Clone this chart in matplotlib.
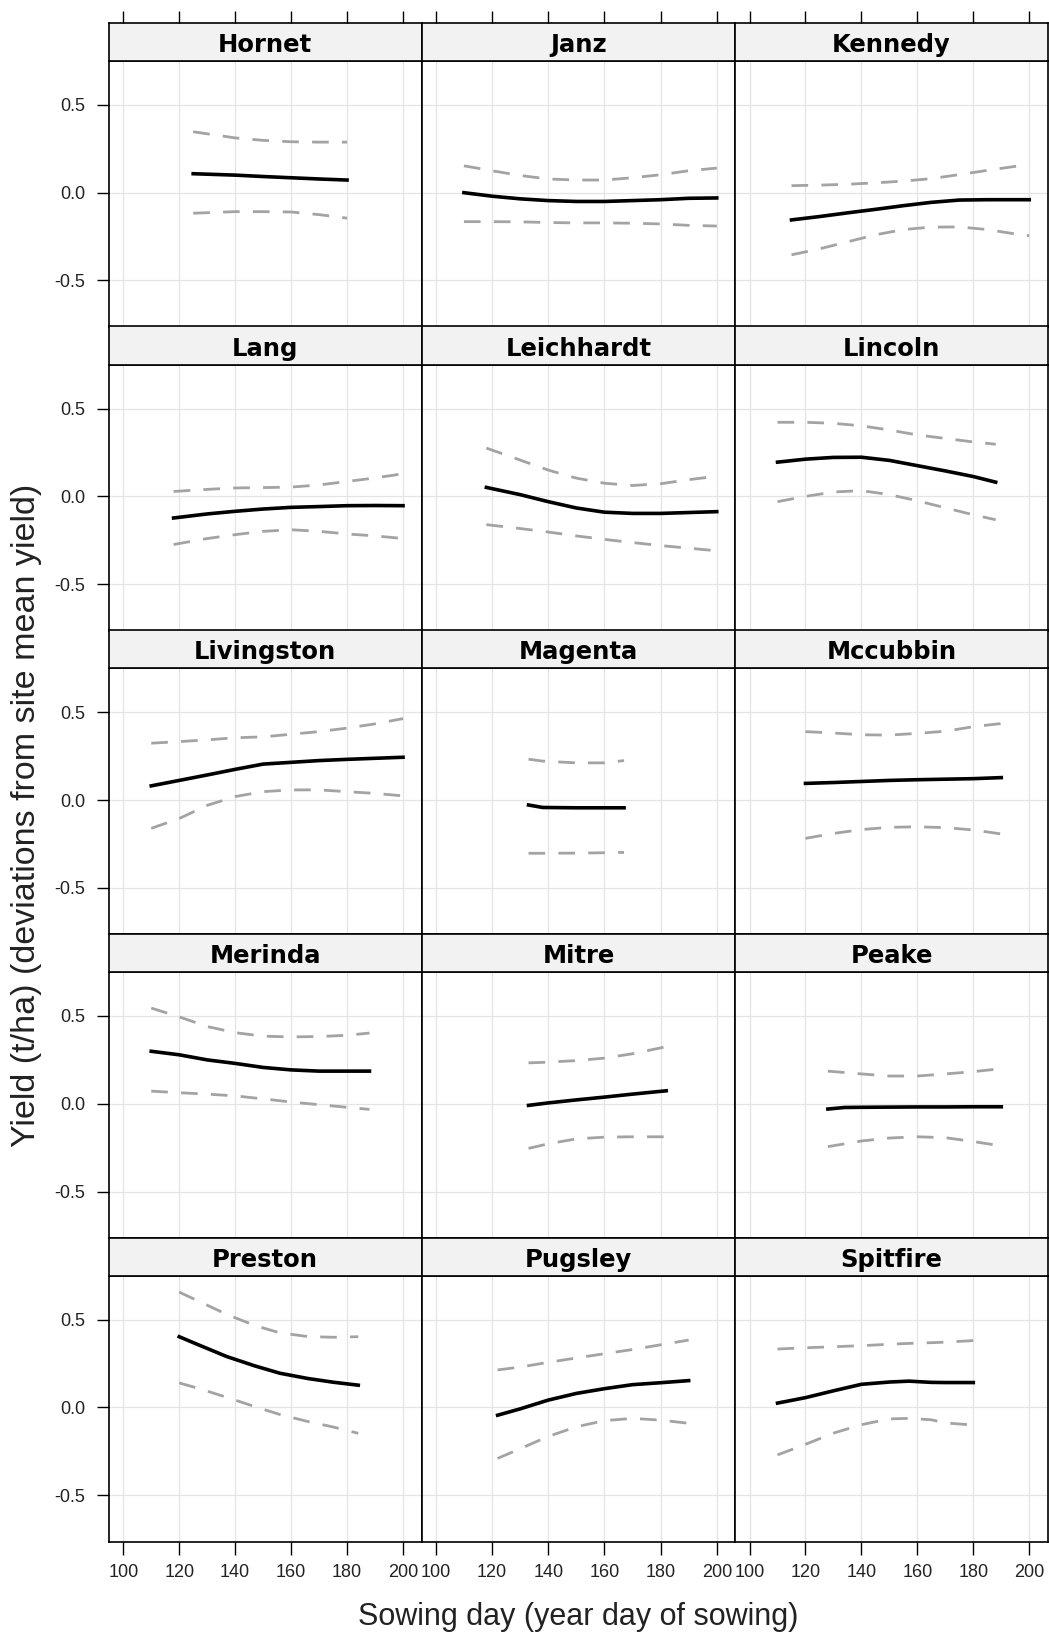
import matplotlib
matplotlib.use("Agg")
from matplotlib import pyplot as plt

# Fitted yield deviation by sowing day, with upper / lower confidence bands
VARIETIES = ["Hornet", "Janz", "Kennedy",
             "Lang", "Leichhardt", "Lincoln",
             "Livingston", "Magenta", "Mccubbin",
             "Merinda", "Mitre", "Peake",
             "Preston", "Pugsley", "Spitfire"]

hornet_days = [125, 140, 150, 160, 170, 180]
hornet_fit = [0.108, 0.100, 0.092, 0.085, 0.078, 0.072]
hornet_upper = [0.347, 0.312, 0.298, 0.290, 0.288, 0.288]
hornet_lower = [-0.117, -0.108, -0.108, -0.110, -0.125, -0.145]

janz_days = [110, 120, 130, 140, 150, 160, 170, 180, 190, 200]
janz_fit = [0.0, -0.02, -0.035, -0.045, -0.05, -0.05, -0.045, -0.04, -0.032, -0.03]
janz_upper = [0.153, 0.125, 0.098, 0.078, 0.072, 0.072, 0.085, 0.102, 0.125, 0.14]
janz_lower = [-0.165, -0.165, -0.166, -0.170, -0.172, -0.172, -0.174, -0.178, -0.186, -0.19]

kennedy_days = [115, 125, 135, 145, 155, 165, 175, 185, 195, 200]
kennedy_fit = [-0.155, -0.136, -0.115, -0.095, -0.074, -0.055, -0.042, -0.04, -0.04, -0.04]
kennedy_upper = [0.04, 0.043, 0.048, 0.056, 0.066, 0.08, 0.103, 0.127, 0.15, 0.16]
kennedy_lower = [-0.354, -0.32, -0.28, -0.24, -0.21, -0.196, -0.195, -0.21, -0.235, -0.245]

lang_days = [118, 130, 140, 150, 160, 170, 180, 190, 200]
lang_fit = [-0.123, -0.10, -0.085, -0.072, -0.0625, -0.058, -0.053, -0.052, -0.053]
lang_upper = [0.028, 0.04, 0.048, 0.05, 0.053, 0.065, 0.085, 0.105, 0.129]
lang_lower = [-0.274, -0.24, -0.218, -0.199, -0.19, -0.199, -0.214, -0.225, -0.24]

leichhardt_days = [118, 130, 140, 150, 160, 170, 180, 190, 200]
leichhardt_fit = [0.051, 0.01, -0.03, -0.066, -0.09, -0.097, -0.097, -0.092, -0.087]
leichhardt_upper = [0.275, 0.207, 0.15, 0.104, 0.075, 0.062, 0.072, 0.095, 0.115]
leichhardt_lower = [-0.161, -0.183, -0.203, -0.225, -0.245, -0.263, -0.28, -0.295, -0.31]

lincoln_days = [110, 120, 130, 140, 150, 160, 170, 180, 188]
lincoln_fit = [0.195, 0.212, 0.222, 0.223, 0.205, 0.175, 0.145, 0.113, 0.081]
lincoln_upper = [0.422, 0.422, 0.416, 0.402, 0.378, 0.35, 0.33, 0.31, 0.297]
lincoln_lower = [-0.03, 0.0, 0.025, 0.033, 0.01, -0.025, -0.065, -0.105, -0.133]

livingston_days = [110, 120, 130, 140, 150, 160, 170, 180, 190, 200]
livingston_fit = [0.081, 0.112, 0.143, 0.175, 0.205, 0.215, 0.225, 0.232, 0.238, 0.244]
livingston_upper = [0.324, 0.333, 0.343, 0.355, 0.36, 0.375, 0.39, 0.41, 0.434, 0.464]
livingston_lower = [-0.161, -0.105, -0.03, 0.02, 0.048, 0.058, 0.058, 0.048, 0.038, 0.024]

magenta_days = [133, 138, 150, 160, 167]
magenta_fit = [-0.028, -0.042, -0.044, -0.044, -0.044]
magenta_upper = [0.233, 0.222, 0.212, 0.212, 0.225]
magenta_lower = [-0.303, -0.303, -0.302, -0.300, -0.298]

mccubbin_days = [120, 130, 140, 150, 160, 170, 180, 190]
mccubbin_fit = [0.095, 0.1, 0.106, 0.112, 0.116, 0.119, 0.122, 0.128]
mccubbin_upper = [0.39, 0.382, 0.372, 0.37, 0.38, 0.392, 0.418, 0.436]
mccubbin_lower = [-0.218, -0.19, -0.168, -0.155, -0.152, -0.157, -0.17, -0.193]

merinda_days = [110, 120, 130, 140, 150, 160, 170, 180, 188]
merinda_fit = [0.299, 0.279, 0.25, 0.23, 0.207, 0.193, 0.186, 0.186, 0.186]
merinda_upper = [0.545, 0.495, 0.44, 0.405, 0.385, 0.381, 0.383, 0.39, 0.403]
merinda_lower = [0.072, 0.063, 0.055, 0.045, 0.028, 0.01, -0.005, -0.02, -0.032]

mitre_days = [133, 140, 150, 160, 170, 182]
mitre_fit = [-0.009, 0.005, 0.022, 0.038, 0.055, 0.074]
mitre_upper = [0.233, 0.237, 0.246, 0.26, 0.285, 0.325]
mitre_lower = [-0.254, -0.228, -0.2, -0.19, -0.188, -0.188]

peake_days = [128, 134, 140, 150, 160, 170, 180, 190]
peake_fit = [-0.03, -0.021, -0.02, -0.019, -0.018, -0.018, -0.017, -0.017]
peake_upper = [0.186, 0.178, 0.17, 0.158, 0.158, 0.17, 0.183, 0.2]
peake_lower = [-0.244, -0.228, -0.212, -0.195, -0.188, -0.193, -0.215, -0.24]

preston_days = [120, 127, 137, 147, 156, 166, 175, 184]
preston_fit = [0.403, 0.356, 0.29, 0.237, 0.195, 0.165, 0.144, 0.127]
preston_upper = [0.657, 0.605, 0.53, 0.467, 0.425, 0.404, 0.4, 0.403]
preston_lower = [0.14, 0.108, 0.058, 0.005, -0.04, -0.08, -0.111, -0.147]

pugsley_days = [122, 130, 140, 150, 160, 170, 180, 190]
pugsley_fit = [-0.044, -0.008, 0.042, 0.08, 0.107, 0.13, 0.141, 0.153]
pugsley_upper = [0.214, 0.23, 0.257, 0.282, 0.306, 0.33, 0.357, 0.384]
pugsley_lower = [-0.29, -0.235, -0.165, -0.11, -0.075, -0.062, -0.072, -0.09]

spitfire_days = [110, 120, 130, 140, 150, 157, 165, 170, 180]
spitfire_fit = [0.025, 0.056, 0.095, 0.132, 0.145, 0.15, 0.143, 0.142, 0.142]
spitfire_upper = [0.333, 0.34, 0.346, 0.352, 0.36, 0.365, 0.369, 0.372, 0.381]
spitfire_lower = [-0.27, -0.21, -0.146, -0.098, -0.065, -0.062, -0.07, -0.088, -0.1]

SERIES = {
    "Hornet": (hornet_days, hornet_fit, hornet_upper, hornet_lower),
    "Janz": (janz_days, janz_fit, janz_upper, janz_lower),
    "Kennedy": (kennedy_days, kennedy_fit, kennedy_upper, kennedy_lower),
    "Lang": (lang_days, lang_fit, lang_upper, lang_lower),
    "Leichhardt": (leichhardt_days, leichhardt_fit, leichhardt_upper, leichhardt_lower),
    "Lincoln": (lincoln_days, lincoln_fit, lincoln_upper, lincoln_lower),
    "Livingston": (livingston_days, livingston_fit, livingston_upper, livingston_lower),
    "Magenta": (magenta_days, magenta_fit, magenta_upper, magenta_lower),
    "Mccubbin": (mccubbin_days, mccubbin_fit, mccubbin_upper, mccubbin_lower),
    "Merinda": (merinda_days, merinda_fit, merinda_upper, merinda_lower),
    "Mitre": (mitre_days, mitre_fit, mitre_upper, mitre_lower),
    "Peake": (peake_days, peake_fit, peake_upper, peake_lower),
    "Preston": (preston_days, preston_fit, preston_upper, preston_lower),
    "Pugsley": (pugsley_days, pugsley_fit, pugsley_upper, pugsley_lower),
    "Spitfire": (spitfire_days, spitfire_fit, spitfire_upper, spitfire_lower),
}

X_TICKS = [100, 120, 140, 160, 180, 200]
Y_TICKS = [-0.5, 0.0, 0.5]
Y_TICK_LABELS = ["-0.5", "0.0", "0.5"]
XLIM = (94.9, 206.6)
YLIM = (-0.765, 0.75)

TICK_FONT = ["Liberation Sans Narrow", "Liberation Sans"]
LABEL_FONT = ["Liberation Sans", "DejaVu Sans"]

plt.rcParams["lines.scale_dashes"] = False

W, H = 1049, 1637
COL_EDGES = [109, 421.5, 735.3, 1047.7]
ROW_STEP = 303.7
STRIP_TOP, STRIP_BOTTOM, PANEL_BOTTOM = 22.7, 61.0, 327.0


def fig_rect(x0, x1, ytop, ybot):
    return [x0 / W, 1 - ybot / H, (x1 - x0) / W, (ybot - ytop) / H]


def draw_panel(fig, row, col, name):
    x0, x1 = COL_EDGES[col], COL_EDGES[col + 1]
    off = row * ROW_STEP

    ax = fig.add_axes(fig_rect(x0, x1, STRIP_BOTTOM + off, PANEL_BOTTOM + off))
    ax.set_xlim(*XLIM)
    ax.set_ylim(*YLIM)
    for x in X_TICKS:
        ax.axvline(x, color="#e4e4e4", lw=0.9, zorder=0)
    for y in Y_TICKS:
        ax.axhline(y, color="#e4e4e4", lw=0.9, zorder=0)

    days, fit, upper, lower = SERIES[name]
    ax.plot(days, upper, color="#a3a3a3", lw=2.0, dashes=(12, 9.5))
    ax.plot(days, lower, color="#a3a3a3", lw=2.0, dashes=(12, 9.5))
    ax.plot(days, fit, color="black", lw=2.6)

    for sp in ax.spines.values():
        sp.set_linewidth(1.2)
    ax.tick_params(direction="out", length=9, width=1.0, colors="black")
    ax.set_xticks(X_TICKS)
    ax.set_yticks(Y_TICKS)
    if col == 0:
        ax.set_yticklabels(Y_TICK_LABELS, family=TICK_FONT, fontsize=13, color="#222222")
        ax.tick_params(axis="y", pad=8)
    else:
        ax.tick_params(axis="y", left=False, labelleft=False)
    if row == 4:
        ax.set_xticklabels([str(t) for t in X_TICKS], family=TICK_FONT, fontsize=13,
                           color="#222222")
        ax.tick_params(axis="x", pad=7)
    else:
        ax.tick_params(axis="x", bottom=False, labelbottom=False)

    strip = fig.add_axes(fig_rect(x0, x1, STRIP_TOP + off, STRIP_BOTTOM + off))
    strip.set_facecolor("#f2f2f2")
    strip.set_xlim(*XLIM)
    strip.set_yticks([])
    for sp in strip.spines.values():
        sp.set_linewidth(1.2)
    strip.set_xticks(X_TICKS)
    if row == 0:
        strip.tick_params(axis="x", direction="out", length=9, width=1.0,
                          bottom=False, labelbottom=False, top=True, labeltop=False)
    else:
        strip.tick_params(axis="x", bottom=False, labelbottom=False)
    strip.text(0.5, 0.42, name, transform=strip.transAxes, ha="center", va="center",
               family="DejaVu Sans", fontweight="bold", fontsize=17.5)


def main():
    fig = plt.figure(figsize=(W / 100, H / 100), dpi=100)
    for i, name in enumerate(VARIETIES):
        draw_panel(fig, i // 3, i % 3, name)

    fig.text(578 / W, 1 - 1617 / H, "Sowing day (year day of sowing)",
             ha="center", va="center", family=LABEL_FONT, fontsize=22, color="#222222")
    fig.text(27 / W, 1 - 815 / H, "Yield (t/ha) (deviations from site mean yield)",
             ha="center", va="center", rotation=90, family=LABEL_FONT, fontsize=24.5,
             color="#222222")

    fig.savefig("out.png", dpi=100)


if __name__ == "__main__":
    main()
